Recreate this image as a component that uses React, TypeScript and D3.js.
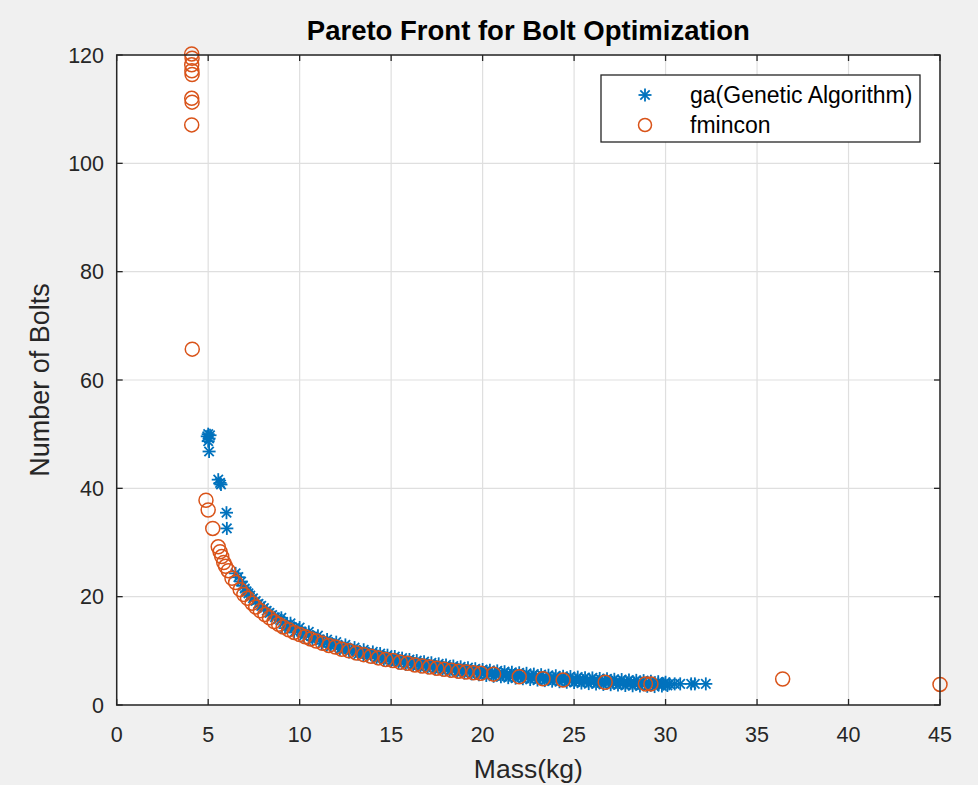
import React from "react";
import * as d3 from "d3";

const W = 978;
const H = 785;

const titleText = "Pareto Front for Bolt Optimization";
const xLabel = "Mass(kg)";
const yLabel = "Number of Bolts";
const xTicks = [0, 5, 10, 15, 20, 25, 30, 35, 40, 45];
const yTicks = [0, 20, 40, 60, 80, 100, 120];
const seriesNames = ["ga(Genetic Algorithm)", "fmincon"];

// ga(Genetic Algorithm): [mass, bolts]
const gaPoints: [number, number][] = [
  [5.0, 50.0], [4.95, 49.6], [5.1, 49.8], [5.05, 49.2], [5.0, 48.7], [5.05, 46.8],
  [5.55, 41.6], [5.65, 41.0], [5.7, 40.7], [6.0, 35.5], [6.02, 32.6],
  [6.5, 24.3], [6.65, 23.6], [6.8, 22.8], [6.9, 22.0], [7.0, 21.5], [7.1, 21.0],
  [7.2, 20.6], [7.3, 20.2], [7.45, 19.7], [7.6, 19.2], [7.75, 18.7], [7.9, 18.3],
  [8.05, 17.9], [8.2, 17.4], [8.35, 17.0], [8.5, 16.6], [8.65, 16.2], [8.8, 15.9],
  [8.95, 15.6], [9.1, 15.3], [9.3, 14.9], [9.5, 14.5], [9.7, 14.2], [9.9, 13.8],
  [10.1, 13.5], [10.3, 13.2], [10.5, 12.9], [10.7, 12.6], [10.9, 12.3], [11.1, 12.0],
  [11.3, 11.8], [11.5, 11.5], [11.7, 11.3], [11.9, 11.1], [12.1, 10.9], [12.3, 10.7],
  [12.5, 10.5], [12.7, 10.3], [12.9, 10.1], [13.1, 9.95], [13.3, 9.8], [13.5, 9.6],
  [13.7, 9.45], [13.9, 9.3], [14.1, 9.15], [14.3, 9.0], [14.5, 8.85], [14.7, 8.7],
  [14.9, 8.55], [15.1, 8.4], [15.3, 8.3], [15.5, 8.15], [15.7, 8.0], [15.9, 7.9],
  [16.1, 7.8], [16.3, 7.65], [16.5, 7.55], [16.7, 7.45], [16.9, 7.35], [17.1, 7.25],
  [17.3, 7.15], [17.5, 7.05], [17.7, 6.95], [17.9, 6.85], [18.1, 6.75], [18.3, 6.65],
  [18.5, 6.6], [18.7, 6.5], [18.9, 6.4], [19.1, 6.35], [19.3, 6.25], [19.5, 6.15],
  [19.7, 6.1], [19.9, 6.0], [20.1, 5.95], [20.3, 5.9], [20.5, 5.8], [20.7, 5.75],
  [20.9, 5.7], [21.1, 5.6], [21.3, 5.55], [21.5, 5.5], [21.7, 5.45], [21.9, 5.4],
  [22.1, 5.35], [22.3, 5.3], [22.5, 5.2], [22.7, 5.15], [22.9, 5.1], [23.1, 5.05],
  [23.3, 5.0], [23.5, 4.95], [23.7, 4.9], [23.9, 4.85], [24.1, 4.8], [24.3, 4.75],
  [24.5, 4.7], [24.7, 4.7], [24.9, 4.65], [25.1, 4.6], [25.3, 4.55], [25.5, 4.5],
  [25.7, 4.45], [25.9, 4.45], [26.1, 4.4], [26.3, 4.35], [26.5, 4.3], [26.7, 4.3],
  [26.9, 4.25], [27.1, 4.2], [27.3, 4.2], [27.5, 4.15], [27.7, 4.1], [27.9, 4.1],
  [28.1, 4.05], [28.3, 4.05], [28.5, 4.0], [28.7, 4.0], [28.9, 3.95], [29.1, 3.95],
  [29.3, 3.9], [29.6, 3.9], [29.9, 3.9], [30.2, 3.9], [30.5, 3.9], [30.8, 3.9],
  [31.4, 3.9], [31.6, 3.9], [32.2, 3.9],
  // upper edge of the band
  [9.0, 16.1], [9.5, 15.1], [10.0, 14.3], [10.5, 13.5], [11.0, 12.8], [11.5, 12.1],
  [12.0, 11.6], [12.5, 11.1], [13.0, 10.6], [13.5, 10.2], [14.0, 9.8], [14.4, 9.5],
  [14.8, 9.2], [15.2, 8.95], [15.6, 8.65], [16.0, 8.4], [16.4, 8.2], [16.8, 8.0],
  [17.2, 7.8], [17.6, 7.6], [18.0, 7.4], [18.4, 7.2], [18.8, 7.05], [19.2, 6.9],
  [19.6, 6.7], [20.0, 6.55], [20.4, 6.4], [20.8, 6.3], [21.2, 6.15], [21.6, 6.05],
  [22.0, 5.95], [22.4, 5.85], [22.8, 5.7], [23.2, 5.6], [23.6, 5.5], [24.0, 5.4],
  [24.4, 5.3], [24.8, 5.25], [25.2, 5.15], [25.6, 5.05], [26.0, 5.0], [26.4, 4.9],
  [26.8, 4.85], [27.2, 4.75], [27.6, 4.7], [28.0, 4.6], [28.4, 4.55], [28.8, 4.5],
  [29.2, 4.4], [29.6, 4.3], [30.0, 4.2],
  // lower edge of the band
  [9.2, 14.2], [9.7, 13.4], [10.2, 12.7], [10.7, 12.0], [11.2, 11.3], [11.7, 10.8],
  [12.2, 10.3], [12.7, 9.8], [13.2, 9.4], [13.7, 9.0], [14.2, 8.6], [14.6, 8.3],
  [15.0, 8.05], [15.4, 7.75], [15.8, 7.5], [16.2, 7.3], [16.6, 7.05], [17.0, 6.85],
  [17.4, 6.65], [17.8, 6.45], [18.2, 6.25], [18.6, 6.1], [19.0, 5.9], [19.4, 5.75],
  [19.8, 5.6], [20.2, 5.45], [20.6, 5.3], [21.0, 5.2], [21.4, 5.05], [21.8, 4.95],
  [22.2, 4.85], [22.6, 4.7], [23.0, 4.6], [23.4, 4.5], [23.8, 4.4], [24.2, 4.3],
  [24.6, 4.2], [25.0, 4.15], [25.4, 4.05], [25.8, 3.95], [26.2, 3.9], [26.6, 3.8],
  [27.0, 3.75], [27.4, 3.7], [27.8, 3.6], [28.2, 3.55], [28.6, 3.5], [29.0, 3.45],
  [29.4, 3.4], [29.8, 3.5], [30.1, 3.6],
];

// fmincon: [mass, bolts]
const fminconPoints: [number, number][] = [
  [4.1, 120.2], [4.12, 119.4], [4.1, 118.2], [4.11, 117.1], [4.12, 116.4],
  [4.1, 112.0], [4.12, 111.3], [4.1, 107.1], [4.13, 65.7],
  [4.88, 37.8], [5.0, 36.0], [5.25, 32.6], [5.55, 29.2], [5.65, 28.3], [5.74, 27.4],
  [5.85, 26.3], [5.95, 25.6], [6.1, 24.8], [6.3, 23.4], [6.5, 22.6], [6.75, 21.3],
  [6.95, 20.4], [7.15, 19.7], [7.4, 18.8], [7.6, 18.1], [7.85, 17.4], [8.1, 16.7],
  [8.35, 16.1], [8.6, 15.4], [8.85, 14.9], [9.1, 14.4], [9.4, 13.9], [9.7, 13.4],
  [10.0, 13.0], [10.3, 12.6], [10.6, 12.2], [10.9, 11.8], [11.25, 11.4], [11.6, 11.0],
  [11.95, 10.7], [12.3, 10.3], [12.7, 10.0], [13.1, 9.6], [13.5, 9.3], [13.9, 9.0],
  [14.3, 8.7], [14.7, 8.4], [15.1, 8.2], [15.5, 7.9], [15.9, 7.7], [16.3, 7.4],
  [16.7, 7.2], [17.1, 7.0], [17.5, 6.8], [17.9, 6.6], [18.3, 6.4], [18.7, 6.25],
  [19.1, 6.1], [19.5, 5.95], [19.9, 5.85], [20.6, 5.7], [22.0, 5.2], [23.3, 4.85],
  [24.4, 4.6], [26.7, 4.2], [28.9, 3.9], [29.2, 3.9], [36.4, 4.8], [45.0, 3.8],
];

const FONT = "'Liberation Sans', Arial, Helvetica, sans-serif";
const AXIS_COLOR = "#262626";
const GRID_COLOR = "#dfdfdf";
const BLUE = "#0072BD";
const ORANGE = "#D95319";

const plot = { left: 116.7, right: 940, top: 55, bottom: 705 };

function Star({ cx, cy, r }: { cx: number; cy: number; r: number }) {
  const d = r * 0.72;
  return (
    <g stroke={BLUE} strokeWidth={1.8} fill="none">
      <line x1={cx - r} y1={cy} x2={cx + r} y2={cy} />
      <line x1={cx} y1={cy - r} x2={cx} y2={cy + r} />
      <line x1={cx - d} y1={cy - d} x2={cx + d} y2={cy + d} />
      <line x1={cx - d} y1={cy + d} x2={cx + d} y2={cy - d} />
    </g>
  );
}

export default function App() {
  const x = d3.scaleLinear().domain([0, 45]).range([plot.left, plot.right]);
  const y = d3.scaleLinear().domain([0, 120]).range([plot.bottom, plot.top]);
  const tickLen = 6;
  const cx = (plot.left + plot.right) / 2;
  const cy = (plot.top + plot.bottom) / 2;

  return (
    <div style={{ position: "fixed", left: 0, top: 0, width: W, height: H }}>
      <svg width={W} height={H} viewBox={`0 0 ${W} ${H}`} style={{ display: "block" }}>
        <rect x={0} y={0} width={W} height={H} fill="#f0f0f0" />
        <rect
          x={plot.left}
          y={plot.top}
          width={plot.right - plot.left}
          height={plot.bottom - plot.top}
          fill="#ffffff"
        />
        {/* grid */}
        <g stroke={GRID_COLOR} strokeWidth={1.2}>
          {xTicks.map((t) => (
            <line key={"gx" + t} x1={x(t)} x2={x(t)} y1={plot.top} y2={plot.bottom} />
          ))}
          {yTicks.map((t) => (
            <line key={"gy" + t} x1={plot.left} x2={plot.right} y1={y(t)} y2={y(t)} />
          ))}
        </g>
        {/* data: ga */}
        <g>
          {gaPoints.map((p, i) => (
            <Star key={"ga" + i} cx={x(p[0])} cy={y(p[1])} r={6.5} />
          ))}
        </g>
        {/* data: fmincon */}
        <g fill="none" stroke={ORANGE} strokeWidth={1.5}>
          {fminconPoints.map((p, i) => (
            <circle key={"fm" + i} cx={x(p[0])} cy={y(p[1])} r={7} />
          ))}
        </g>
        {/* axes box and ticks */}
        <rect
          x={plot.left}
          y={plot.top}
          width={plot.right - plot.left}
          height={plot.bottom - plot.top}
          fill="none"
          stroke={AXIS_COLOR}
          strokeWidth={1.5}
        />
        <g stroke={AXIS_COLOR} strokeWidth={1.3}>
          {xTicks.map((t) => (
            <g key={"tx" + t}>
              <line x1={x(t)} x2={x(t)} y1={plot.bottom} y2={plot.bottom - tickLen} />
              <line x1={x(t)} x2={x(t)} y1={plot.top} y2={plot.top + tickLen} />
            </g>
          ))}
          {yTicks.map((t) => (
            <g key={"ty" + t}>
              <line x1={plot.left} x2={plot.left + tickLen} y1={y(t)} y2={y(t)} />
              <line x1={plot.right} x2={plot.right - tickLen} y1={y(t)} y2={y(t)} />
            </g>
          ))}
        </g>
        {/* tick labels */}
        <g fill={AXIS_COLOR} fontFamily={FONT} fontSize={21.5}>
          {xTicks.map((t) => (
            <text key={"lx" + t} x={x(t)} y={742} textAnchor="middle">
              {t}
            </text>
          ))}
          {yTicks.map((t) => (
            <text key={"ly" + t} x={104} y={y(t) + 7.5} textAnchor="end">
              {t}
            </text>
          ))}
        </g>
        {/* labels */}
        <text
          x={cx}
          y={778}
          textAnchor="middle"
          fontFamily={FONT}
          fontSize={26.5}
          fill={AXIS_COLOR}
        >
          {xLabel}
        </text>
        <text
          transform={`translate(49,${cy}) rotate(-90)`}
          textAnchor="middle"
          fontFamily={FONT}
          fontSize={27}
          fill={AXIS_COLOR}
        >
          {yLabel}
        </text>
        <text
          x={cx}
          y={40}
          textAnchor="middle"
          fontFamily={FONT}
          fontSize={27.5}
          fontWeight="bold"
          fill="#000000"
        >
          {titleText}
        </text>
        {/* legend */}
        <g>
          <rect x={601} y={75} width={319} height={67} fill="#ffffff" stroke={AXIS_COLOR} strokeWidth={1.3} />
          <Star cx={645} cy={95} r={6.5} />
          <circle cx={645} cy={125} r={6.5} fill="none" stroke={ORANGE} strokeWidth={1.5} />
          <text x={690} y={103} fontFamily={FONT} fontSize={23} fill="#000000">
            {seriesNames[0]}
          </text>
          <text x={690} y={133} fontFamily={FONT} fontSize={23} fill="#000000">
            {seriesNames[1]}
          </text>
        </g>
      </svg>
    </div>
  );
}
